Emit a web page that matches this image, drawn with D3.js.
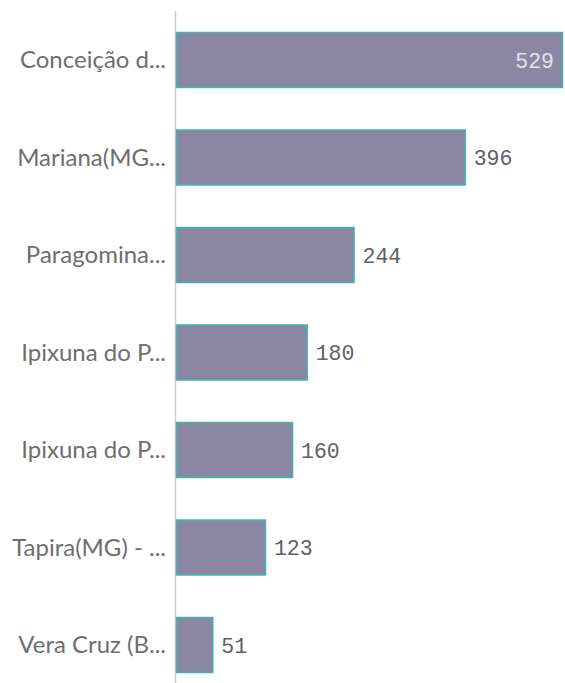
<!DOCTYPE html>
<html><head><meta charset="utf-8">
<script src="https://cdn.jsdelivr.net/npm/d3@7"></script>
<style>body{margin:0;background:#fff;}svg{display:block;}</style>
</head><body>
<svg id="c" width="565" height="683"></svg>
<script>
const categories = ["Conceição d...", "Mariana(MG...", "Paragomina...", "Ipixuna do P...", "Ipixuna do P...", "Tapira(MG) - ...", "Vera Cruz (B..."];
const values = [529, 396, 244, 180, 160, 123, 51];

const svg = d3.select("#c");
const x0 = 176;
const x = d3.scaleLinear().domain([0, 529]).range([x0, 563]);
const y = d3.scaleBand().domain(d3.range(categories.length)).range([12.5, 692.5]).paddingInner(0.426).paddingOuter(0.2);

svg.append("line").attr("x1", 175.5).attr("x2", 175.5).attr("y1", 11).attr("y2", 683)
  .attr("stroke", "#cccccc").attr("stroke-width", 1.5);

svg.selectAll("rect.bar").data(values).join("rect").attr("class", "bar")
  .attr("x", x0 + 0.5).attr("y", (d, i) => y(i) + 0.5)
  .attr("width", d => x(d) - x0 - 1).attr("height", y.bandwidth() - 1)
  .attr("fill", "#8b87a2").attr("stroke", "#3fb3b5").attr("stroke-width", 1.5);

svg.selectAll("text.cat").data(categories).join("text").attr("class", "cat")
  .attr("x", 166).attr("y", (d, i) => y(i) + y.bandwidth() / 2)
  .attr("dy", "0.35em").attr("text-anchor", "end")
  .attr("font-family", "Lato, sans-serif").attr("font-size", 24).attr("fill", "#6e6e6e")
  .text(d => d);

svg.selectAll("text.val").data(values).join("text").attr("class", "val")
  .attr("x", d => (x(d) - x0 > 300 ? x(d) - 9 : x(d) + 8))
  .attr("y", (d, i) => y(i) + y.bandwidth() / 2)
  .attr("dy", "0.36em").attr("text-anchor", d => (x(d) - x0 > 300 ? "end" : "start"))
  .attr("font-family", "'Liberation Mono', monospace").attr("font-size", 21.5)
  .attr("fill", d => (x(d) - x0 > 300 ? "#e4e3ea" : "#606060"))
  .text(d => d);
</script>
</body></html>
